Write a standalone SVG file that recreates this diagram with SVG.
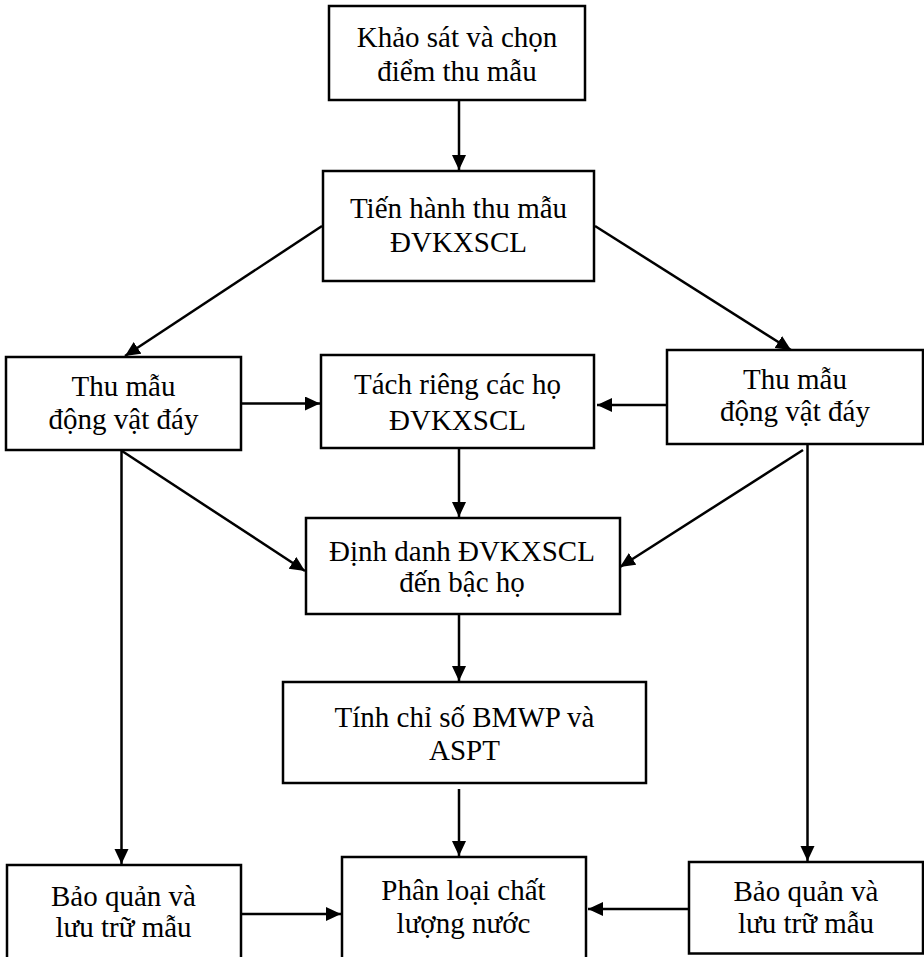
<svg xmlns="http://www.w3.org/2000/svg" width="924" height="957" viewBox="0 0 924 957">
<style>
.box{fill:#fff;stroke:#000;stroke-width:2.5}
.lbl{font-family:"Liberation Serif","Times New Roman",serif;font-size:29px;fill:#000;text-anchor:middle}
.con{fill:none;stroke:#000;stroke-width:2.5}
</style>
<defs>
<marker id="ah" markerUnits="userSpaceOnUse" markerWidth="16" markerHeight="15" refX="15" refY="7" orient="auto">
<path d="M0,0 L15,7 L0,14 z" fill="#000"/>
</marker>
</defs>
<rect width="924" height="957" fill="#fff"/>
<g id="connectors">
<line class="con" x1="459" y1="100" x2="459" y2="170" marker-end="url(#ah)"/>
<line class="con" x1="322" y1="226" x2="125" y2="356" marker-end="url(#ah)"/>
<line class="con" x1="595" y1="226" x2="791" y2="350" marker-end="url(#ah)"/>
<line class="con" x1="242" y1="403.5" x2="320" y2="403.5" marker-end="url(#ah)"/>
<line class="con" x1="667" y1="405" x2="597" y2="405" marker-end="url(#ah)"/>
<line class="con" x1="459" y1="449" x2="459" y2="517" marker-end="url(#ah)"/>
<line class="con" x1="122" y1="451" x2="305" y2="571" marker-end="url(#ah)"/>
<line class="con" x1="803" y1="450" x2="620" y2="567" marker-end="url(#ah)"/>
<line class="con" x1="121.5" y1="450" x2="121.5" y2="864" marker-end="url(#ah)"/>
<line class="con" x1="807.5" y1="444" x2="807.5" y2="861" marker-end="url(#ah)"/>
<line class="con" x1="459" y1="614" x2="459" y2="681" marker-end="url(#ah)"/>
<line class="con" x1="459" y1="789" x2="459" y2="856" marker-end="url(#ah)"/>
<line class="con" x1="242" y1="914" x2="341" y2="914" marker-end="url(#ah)"/>
<line class="con" x1="689" y1="909" x2="588" y2="909" marker-end="url(#ah)"/>
</g>
<g id="n1">
<rect class="box" x="329" y="6" width="256" height="94"/>
<text class="lbl" x="457" y="46.5">Khảo sát và chọn</text>
<text class="lbl" x="457" y="80.5">điểm thu mẫu</text>
</g>
<g id="n2">
<rect class="box" x="323" y="171" width="271" height="110"/>
<text class="lbl" x="458.5" y="218">Tiến hành thu mẫu</text>
<text class="lbl" x="458.5" y="251.5">ĐVKXSCL</text>
</g>
<g id="n3">
<rect class="box" x="6" y="357" width="235" height="93"/>
<text class="lbl" x="123.5" y="396">Thu mẫu</text>
<text class="lbl" x="123.5" y="429">động vật đáy</text>
</g>
<g id="n4">
<rect class="box" x="321" y="355" width="273" height="93"/>
<text class="lbl" x="457.5" y="394">Tách riêng các họ</text>
<text class="lbl" x="457.5" y="429.5">ĐVKXSCL</text>
</g>
<g id="n5">
<rect class="box" x="667" y="350" width="256" height="94"/>
<text class="lbl" x="795" y="389">Thu mẫu</text>
<text class="lbl" x="795" y="420.5">động vật đáy</text>
</g>
<g id="n6">
<rect class="box" x="306" y="518" width="314" height="96"/>
<text class="lbl" x="462" y="561">Định danh ĐVKXSCL</text>
<text class="lbl" x="462" y="592">đến bậc họ</text>
</g>
<g id="n7">
<rect class="box" x="283" y="682" width="363" height="101"/>
<text class="lbl" x="464.5" y="727">Tính chỉ số BMWP và</text>
<text class="lbl" x="464.5" y="760">ASPT</text>
</g>
<g id="n8">
<rect class="box" x="342" y="857" width="244" height="104"/>
<text class="lbl" x="463.5" y="900">Phân loại chất</text>
<text class="lbl" x="463.5" y="933">lượng nước</text>
</g>
<g id="n9">
<rect class="box" x="7" y="865" width="234" height="96"/>
<text class="lbl" x="123.5" y="905.5">Bảo quản và</text>
<text class="lbl" x="123.5" y="936.5">lưu trữ mẫu</text>
</g>
<g id="n10">
<rect class="box" x="689" y="862" width="234" height="91.5"/>
<text class="lbl" x="806" y="900.5">Bảo quản và</text>
<text class="lbl" x="806" y="933">lưu trữ mẫu</text>
</g>
</svg>
